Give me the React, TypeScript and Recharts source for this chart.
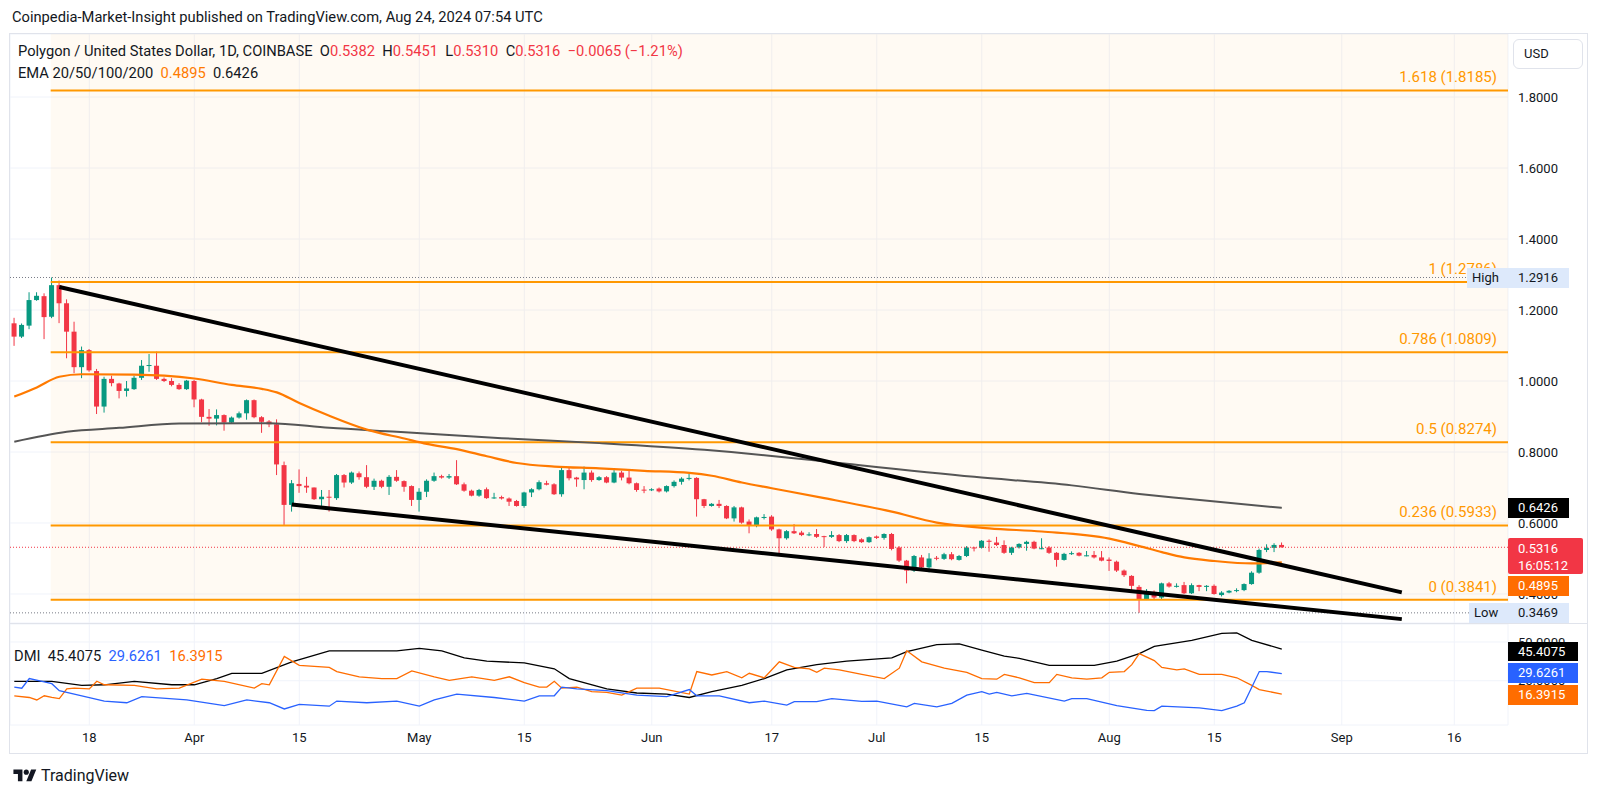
import React from 'react';
import {
  ComposedChart,
  Bar,
  Line,
  XAxis,
  YAxis,
  CartesianGrid,
  ReferenceLine,
  ReferenceArea,
} from 'recharts';

// ---------- DATA ----------
// Daily candles [open, high, low, close], first day = 8 Mar 2024 (index 0)
const candles: [number, number, number, number][] = [
  [1.1625, 1.178, 1.099, 1.125], [1.125, 1.162, 1.121, 1.158], [1.156, 1.25, 1.146, 1.228], [1.228, 1.25, 1.226, 1.24],
  [1.239, 1.247, 1.118, 1.18], [1.181, 1.2916, 1.177, 1.27], [1.27, 1.283, 1.163, 1.219], [1.219, 1.23, 1.064, 1.139],
  [1.139, 1.167, 1.022, 1.039], [1.039, 1.097, 1.008, 1.087], [1.087, 1.09, 1.026, 1.03], [1.028, 1.034, 0.907, 0.928],
  [0.928, 1.012, 0.911, 1.006], [1.006, 1.015, 0.985, 0.994], [0.993, 0.995, 0.951, 0.972], [0.972, 1.0, 0.956, 0.979],
  [0.977, 1.015, 0.975, 1.009], [1.009, 1.059, 1.003, 1.043], [1.043, 1.076, 1.026, 1.045], [1.043, 1.083, 1.003, 1.006],
  [1.006, 1.01, 0.997, 1.0], [1.0, 1.008, 0.985, 0.989], [0.989, 0.994, 0.975, 0.977], [0.977, 1.003, 0.975, 1.001],
  [1.0, 1.003, 0.926, 0.948], [0.948, 0.95, 0.884, 0.899], [0.899, 0.921, 0.874, 0.894], [0.894, 0.92, 0.875, 0.904],
  [0.904, 0.906, 0.86, 0.883], [0.883, 0.9, 0.88, 0.897], [0.897, 0.914, 0.894, 0.909], [0.909, 0.948, 0.891, 0.946],
  [0.946, 0.948, 0.895, 0.898], [0.898, 0.901, 0.854, 0.885], [0.886, 0.89, 0.87, 0.878], [0.878, 0.892, 0.735, 0.765],
  [0.763, 0.773, 0.593, 0.651], [0.651, 0.721, 0.632, 0.712], [0.71, 0.751, 0.685, 0.704], [0.705, 0.73, 0.685, 0.7],
  [0.7, 0.7, 0.665, 0.667], [0.667, 0.693, 0.648, 0.674], [0.674, 0.693, 0.632, 0.672], [0.67, 0.738, 0.665, 0.735],
  [0.735, 0.738, 0.7, 0.714], [0.714, 0.745, 0.71, 0.742], [0.74, 0.745, 0.722, 0.729], [0.729, 0.763, 0.698, 0.702],
  [0.702, 0.725, 0.693, 0.719], [0.719, 0.722, 0.698, 0.702], [0.702, 0.735, 0.679, 0.73], [0.73, 0.749, 0.716, 0.719],
  [0.718, 0.72, 0.688, 0.702], [0.704, 0.706, 0.648, 0.665], [0.665, 0.698, 0.632, 0.688], [0.688, 0.723, 0.673, 0.719],
  [0.719, 0.742, 0.716, 0.732], [0.732, 0.736, 0.725, 0.728], [0.728, 0.738, 0.724, 0.732], [0.732, 0.777, 0.707, 0.709],
  [0.709, 0.714, 0.688, 0.691], [0.691, 0.694, 0.675, 0.677], [0.677, 0.696, 0.674, 0.693], [0.695, 0.7, 0.668, 0.67],
  [0.67, 0.685, 0.668, 0.672], [0.673, 0.677, 0.666, 0.669], [0.669, 0.672, 0.648, 0.66], [0.662, 0.665, 0.646, 0.648],
  [0.648, 0.688, 0.643, 0.686], [0.686, 0.698, 0.673, 0.695], [0.695, 0.72, 0.692, 0.715], [0.712, 0.719, 0.706, 0.708],
  [0.709, 0.712, 0.679, 0.681], [0.681, 0.756, 0.674, 0.749], [0.749, 0.756, 0.72, 0.726], [0.728, 0.73, 0.702, 0.723],
  [0.721, 0.759, 0.695, 0.742], [0.742, 0.748, 0.716, 0.721], [0.721, 0.732, 0.719, 0.729], [0.729, 0.732, 0.712, 0.714],
  [0.714, 0.749, 0.712, 0.742], [0.742, 0.747, 0.72, 0.728], [0.728, 0.747, 0.709, 0.712], [0.712, 0.714, 0.688, 0.693],
  [0.694, 0.704, 0.684, 0.692], [0.692, 0.698, 0.69, 0.695], [0.697, 0.7, 0.686, 0.689], [0.689, 0.706, 0.686, 0.704],
  [0.704, 0.72, 0.7, 0.716], [0.716, 0.729, 0.708, 0.725], [0.725, 0.738, 0.72, 0.727], [0.727, 0.729, 0.618, 0.667],
  [0.667, 0.668, 0.642, 0.648], [0.648, 0.656, 0.646, 0.654], [0.654, 0.665, 0.642, 0.648], [0.648, 0.65, 0.611, 0.613],
  [0.613, 0.648, 0.604, 0.644], [0.644, 0.646, 0.598, 0.601], [0.604, 0.61, 0.571, 0.592], [0.592, 0.618, 0.588, 0.616],
  [0.616, 0.625, 0.61, 0.617], [0.618, 0.622, 0.578, 0.582], [0.582, 0.584, 0.515, 0.557], [0.557, 0.58, 0.553, 0.577],
  [0.577, 0.597, 0.569, 0.571], [0.573, 0.578, 0.563, 0.566], [0.566, 0.574, 0.563, 0.568], [0.569, 0.583, 0.558, 0.561],
  [0.563, 0.564, 0.532, 0.562], [0.561, 0.577, 0.558, 0.566], [0.566, 0.569, 0.546, 0.549], [0.549, 0.569, 0.544, 0.566],
  [0.566, 0.568, 0.546, 0.549], [0.554, 0.557, 0.544, 0.546], [0.546, 0.562, 0.544, 0.56], [0.562, 0.565, 0.555, 0.558],
  [0.558, 0.571, 0.553, 0.569], [0.569, 0.572, 0.523, 0.527], [0.531, 0.535, 0.49, 0.494], [0.494, 0.496, 0.43, 0.466],
  [0.466, 0.51, 0.462, 0.507], [0.503, 0.51, 0.472, 0.475], [0.475, 0.515, 0.461, 0.5], [0.502, 0.507, 0.495, 0.5],
  [0.499, 0.516, 0.496, 0.512], [0.512, 0.518, 0.495, 0.498], [0.496, 0.51, 0.494, 0.507], [0.507, 0.535, 0.504, 0.531],
  [0.531, 0.533, 0.52, 0.53], [0.53, 0.552, 0.528, 0.55], [0.55, 0.554, 0.519, 0.547], [0.545, 0.561, 0.535, 0.538],
  [0.538, 0.551, 0.513, 0.516], [0.516, 0.533, 0.51, 0.531], [0.531, 0.543, 0.528, 0.541], [0.541, 0.55, 0.522, 0.547],
  [0.547, 0.55, 0.526, 0.528], [0.528, 0.557, 0.526, 0.529], [0.531, 0.535, 0.513, 0.516], [0.516, 0.518, 0.477, 0.496],
  [0.496, 0.516, 0.494, 0.513], [0.513, 0.52, 0.51, 0.515], [0.516, 0.518, 0.506, 0.508], [0.508, 0.521, 0.506, 0.509],
  [0.51, 0.521, 0.5, 0.503], [0.503, 0.521, 0.492, 0.494], [0.497, 0.503, 0.465, 0.493], [0.491, 0.494, 0.462, 0.466],
  [0.466, 0.469, 0.448, 0.453], [0.451, 0.453, 0.411, 0.423], [0.42, 0.425, 0.3469, 0.385], [0.385, 0.414, 0.383, 0.406],
  [0.406, 0.41, 0.383, 0.39], [0.39, 0.432, 0.385, 0.43], [0.43, 0.434, 0.418, 0.421], [0.422, 0.43, 0.418, 0.423],
  [0.425, 0.434, 0.4, 0.402], [0.402, 0.43, 0.4, 0.425], [0.425, 0.426, 0.408, 0.42], [0.42, 0.425, 0.408, 0.423],
  [0.423, 0.427, 0.398, 0.4], [0.397, 0.408, 0.393, 0.404], [0.404, 0.411, 0.402, 0.409], [0.409, 0.416, 0.405, 0.411],
  [0.411, 0.43, 0.408, 0.428], [0.428, 0.464, 0.426, 0.46], [0.46, 0.528, 0.457, 0.524], [0.524, 0.54, 0.518, 0.53],
  [0.53, 0.543, 0.518, 0.5382], [0.5382, 0.5451, 0.531, 0.5316],
];

// EMA values read at day indices [day, value]
const emaOrange: [number, number][] = [
  [0, 0.956], [3, 0.982], [6, 1.012], [9, 1.019], [16, 1.018], [20, 1.015], [24, 1.007], [29, 0.989],
  [33, 0.978], [35, 0.968], [38, 0.938], [42, 0.902], [47, 0.863], [52, 0.838], [55, 0.823], [59, 0.808],
  [63, 0.788], [67, 0.769], [72, 0.759], [78, 0.754], [84, 0.747], [90, 0.741], [93, 0.733], [97, 0.714],
  [101, 0.698], [108, 0.67], [117, 0.632], [123, 0.601], [130, 0.585], [137, 0.576], [146, 0.556], [150, 0.535],
  [153, 0.518], [156, 0.503], [160, 0.493], [165, 0.486], [169, 0.4895],
];
const emaGray: [number, number][] = [
  [0, 0.829], [7, 0.857], [14, 0.868], [22, 0.88], [34, 0.881], [42, 0.868], [51, 0.857], [65, 0.839],
  [78, 0.825], [92, 0.806], [101, 0.789], [106, 0.778], [128, 0.73], [141, 0.706], [150, 0.682], [156, 0.669],
  [169, 0.6426],
];

// Trendlines [day, price]
const upperTrend: [number, number][] = [[6, 1.265], [185, 0.4045]];
const lowerTrend: [number, number][] = [[37, 0.6521], [185, 0.3292]];

// Fibonacci levels [ratio label, price]
const fibLevels: [string, number][] = [
  ['1.618', 1.8185], ['1', 1.2786], ['0.786', 1.0809], ['0.5', 0.8274], ['0.236', 0.5933], ['0', 0.3841],
];
const FIB_START = 4.85;
const HIGH = 1.2916;
const LOW = 0.3469;
const LAST = 0.5316;

const priceTicks = [0.4, 0.6, 0.8, 1.0, 1.2, 1.4, 1.6, 1.8];
const dateTicks: [number, string][] = [
  [10, '18'], [24, 'Apr'], [38, '15'], [54, 'May'], [68, '15'], [85, 'Jun'], [101, '17'],
  [115, 'Jul'], [129, '15'], [146, 'Aug'], [160, '15'], [177, 'Sep'], [192, '16'],
];

// DMI [day, value]
const adx: [number, number][] = [
  [0, 24.6], [5, 24.6], [9, 22.0], [12, 22.4], [16, 24.6], [21, 22.4], [24, 22.4], [27, 26.4], [29, 29.8],
  [33, 29.8], [37, 37.2], [42, 44.3], [51, 44.3], [54, 45.9], [57, 44.3], [60, 39.8], [63, 37.6], [68, 36.5],
  [72, 32.7], [74, 26.4], [79, 19.7], [83, 17.1], [87, 16.4], [90, 14.2], [93, 18.0], [97, 22.0], [100, 26.4],
  [103, 32.0], [107, 35.4], [111, 37.6], [117, 39.8], [119, 43.8], [123, 48.3], [126, 48.8], [129, 44.7],
  [132, 40.9], [134, 39.4], [138, 34.9], [144, 34.9], [147, 37.6], [150, 42.5], [152, 47.2], [157, 51.0],
  [161, 55.5], [163, 55.9], [165, 51.0], [169, 45.4075],
];
const plusDI: [number, number][] = [
  [0, 20.9], [1, 20.2], [2, 26.4], [4, 24.2], [5, 23.1], [6, 18.6], [9, 15.3], [12, 11.9], [15, 10.8],
  [17, 14.8], [23, 12.6], [28, 9.0], [31, 12.6], [34, 10.8], [36, 6.8], [38, 9.7], [42, 8.6], [43, 11.9],
  [47, 10.8], [51, 11.9], [54, 8.6], [56, 12.6], [59, 16.4], [64, 14.2], [68, 11.9], [70, 15.3], [72, 15.3],
  [73, 20.9], [75, 19.7], [79, 18.6], [83, 15.7], [87, 14.8], [90, 19.3], [91, 15.3], [94, 15.3], [98, 10.8],
  [100, 11.9], [103, 9.25], [104, 11.5], [107, 11.5], [109, 13.5], [113, 11.7], [115, 11.9], [119, 8.1],
  [120, 10.4], [123, 8.1], [125, 10.4], [127, 15.7], [129, 18.0], [130, 16.4], [131, 17.5], [133, 15.3],
  [135, 16.8], [140, 11.9], [141, 13.5], [143, 13.5], [147, 9.0], [151, 5.9], [152, 5.7], [153, 8.6],
  [158, 7.5], [161, 5.7], [163, 8.6], [164, 10.8], [166, 30.9], [167, 30.9], [169, 29.6261],
];
const minusDI: [number, number][] = [
  [0, 15.3], [2, 14.2], [3, 12.6], [4, 15.3], [5, 14.2], [6, 13.5], [7, 19.7], [8, 20.2], [10, 19.7],
  [11, 24.65], [12, 22.4], [16, 22.0], [19, 19.7], [22, 20.2], [25, 26.0], [28, 24.65], [32, 20.2], [33, 23.1],
  [34, 22.4], [36, 40.7], [38, 34.9], [42, 33.6], [43, 30.9], [46, 27.55], [49, 26.4], [51, 26.4], [53, 31.3],
  [56, 27.55], [58, 25.3], [61, 27.55], [64, 25.3], [66, 27.55], [68, 23.8], [70, 20.9], [71, 20.9], [72, 24.65],
  [73, 20.2], [75, 20.9], [77, 18.0], [79, 17.5], [81, 15.7], [83, 20.2], [86, 20.2], [90, 16.4], [91, 30.9],
  [93, 28.7], [95, 30.9], [97, 26.9], [98, 29.8], [100, 26.9], [102, 37.2], [104, 33.6], [106, 32.7],
  [107, 30.45], [108, 33.1], [110, 32.0], [113, 29.1], [116, 26.4], [118, 33.1], [119, 44.3], [121, 37.2],
  [124, 33.1], [127, 30.45], [129, 26.4], [131, 26.0], [132, 29.1], [134, 26.9], [136, 23.8], [138, 23.8],
  [139, 29.1], [141, 26.9], [143, 26.0], [145, 26.9], [146, 30.45], [148, 30.9], [149, 35.4], [150, 42.5],
  [152, 38.0], [153, 33.6], [155, 32.0], [156, 32.7], [158, 29.1], [161, 29.1], [163, 26.9], [165, 22.0],
  [166, 19.3], [169, 16.3915],
];
const dmiTicks = [25, 50];

// ---------- LAYOUT / STYLE ----------
const GREEN = '#089981';
const RED = '#f23645';
const FIB = '#ff9800';
const EMA_ORANGE = '#ff7a00';
const EMA_GRAY = '#555555';
const GRID = '#f0f3fa';
const TXT = '#131722';
const XMIN = -0.573;
const XMAX = 199.16;
const PMIN = 0.3183;
const PMAX = 1.9775;
const DMIN = -3.55;
const DMAX = 61.6;
const FONT = "Roboto, 'Noto Sans', sans-serif";
const LEGEND_FS = 14.7;

const tickIdx = dateTicks.map((d) => d[0]);
const fmtDate = (v: number) => {
  const f = dateTicks.find((d) => d[0] === v);
  return f ? f[1] : '';
};

const mainRows = (() => {
  const rows: any[] = [];
  for (let i = 0; i < 200; i++) rows.push({ x: i });
  candles.forEach(([o, h, l, c], i) => Object.assign(rows[i], { o, h, l, c, range: [l, h] }));
  emaOrange.forEach(([i, v]) => (rows[i].emaO = v));
  emaGray.forEach(([i, v]) => (rows[i].emaG = v));
  upperTrend.forEach(([i, v]) => (rows[i].upper = v));
  lowerTrend.forEach(([i, v]) => (rows[i].lower = v));
  return rows;
})();

const dmiRows = (() => {
  const rows: any[] = [];
  for (let i = 0; i < 200; i++) rows.push({ x: i });
  adx.forEach(([i, v]) => (rows[i].adx = v));
  plusDI.forEach(([i, v]) => (rows[i].pdi = v));
  minusDI.forEach(([i, v]) => (rows[i].mdi = v));
  return rows;
})();

const Candle = (props: any) => {
  const { x, y, width, height, payload } = props;
  if (!payload || payload.o == null || !isFinite(y) || !isFinite(height)) return null;
  const { o, h, l, c } = payload;
  const color = c >= o ? GREEN : RED;
  const span = h - l;
  const ppu = span > 0 ? height / span : 0;
  const top = y + (h - Math.max(o, c)) * ppu;
  const bot = y + (h - Math.min(o, c)) * ppu;
  const cx = x + width / 2;
  return (
    <g>
      <line x1={cx} x2={cx} y1={y} y2={y + height} stroke={color} strokeWidth={1} />
      <rect x={x} y={top} width={width} height={Math.max(1, bot - top)} fill={color} />
    </g>
  );
};

const fibLabel = (text: string) => (p: any) => {
  const vb = p.viewBox || {};
  return (
    <text x={vb.x + vb.width - 11} y={vb.y - 8} textAnchor="end" fill={FIB} fontSize={15}>
      {text}
    </text>
  );
};

const Badge = ({ left, top, width, height, bg, color, children, style }: any) => (
  <div
    style={{
      position: 'absolute', left, top, width, height, background: bg, color,
      fontSize: 13, display: 'flex', alignItems: 'center', paddingLeft: 10, boxSizing: 'border-box',
      lineHeight: '14px', ...style,
    }}
  >
    {children}
  </div>
);

export default function App() {
  return (
    <div style={{ position: 'absolute', left: 0, top: 0, width: 1600, height: 796, background: '#fff', fontFamily: FONT, color: TXT, overflow: 'hidden' }}>
      <div style={{ position: 'absolute', left: 12, top: 8, fontSize: LEGEND_FS, lineHeight: '18px' }}>
        Coinpedia-Market-Insight published on TradingView.com, Aug 24, 2024 07:54 UTC
      </div>

      {/* frame */}
      <div style={{ position: 'absolute', left: 9, top: 33, width: 1579, height: 721, border: '1px solid #e0e3eb', boxSizing: 'border-box' }} />

      {/* main price pane */}
      <div style={{ position: 'absolute', left: 10, top: 34 }}>
        <ComposedChart width={1578} height={589} data={mainRows} margin={{ top: 0, right: 0, bottom: 0, left: 0 }}>
          <CartesianGrid stroke={GRID} />
          <XAxis type="number" dataKey="x" domain={[XMIN, XMAX]} ticks={tickIdx} allowDataOverflow hide />
          <YAxis
            orientation="right" width={80} type="number" domain={[PMIN, PMAX]} ticks={priceTicks} allowDataOverflow
            axisLine={false} tickLine={false} tickSize={0} tickMargin={10} interval={0}
            tickFormatter={(v: number) => v.toFixed(4)} tick={{ fill: TXT, fontSize: 13 }}
          />
          <ReferenceArea x1={FIB_START} x2={XMAX} y1={0.3841} y2={PMAX} fill={FIB} fillOpacity={0.048} stroke="none" ifOverflow="visible" />
          {fibLevels.map(([r, v]) => (
            <ReferenceLine
              key={r}
              segment={[{ x: FIB_START, y: v }, { x: XMAX, y: v }]}
              stroke={FIB} strokeWidth={2} ifOverflow="visible"
              label={fibLabel(`${r} (${v.toFixed(4)})`)}
            />
          ))}
          <ReferenceLine y={HIGH} stroke="#787b86" strokeDasharray="1 2" />
          <ReferenceLine y={LOW} stroke="#787b86" strokeDasharray="1 2" />
          <ReferenceLine y={LAST} stroke={RED} strokeDasharray="1 2" />
          <Bar dataKey="range" barSize={5} shape={Candle} isAnimationActive={false} />
          <Line type="monotone" dataKey="emaG" stroke={EMA_GRAY} strokeWidth={2} dot={false} connectNulls isAnimationActive={false} />
          <Line type="monotone" dataKey="emaO" stroke={EMA_ORANGE} strokeWidth={2.2} dot={false} connectNulls isAnimationActive={false} />
          <Line type="linear" dataKey="upper" stroke="#000" strokeWidth={4} dot={false} connectNulls isAnimationActive={false} />
          <Line type="linear" dataKey="lower" stroke="#000" strokeWidth={4} dot={false} connectNulls isAnimationActive={false} />
        </ComposedChart>
      </div>

      {/* separator */}
      <div style={{ position: 'absolute', left: 9, top: 623, width: 1579, height: 1, background: '#e0e3eb' }} />

      {/* DMI pane */}
      <div style={{ position: 'absolute', left: 10, top: 624 }}>
        <ComposedChart width={1578} height={129} data={dmiRows} margin={{ top: 0, right: 0, bottom: 0, left: 0 }}>
          <CartesianGrid stroke={GRID} />
          <XAxis
            type="number" dataKey="x" domain={[XMIN, XMAX]} ticks={tickIdx} allowDataOverflow interval={0}
            height={28} axisLine={false} tickLine={false} tickSize={0} tickMargin={8}
            tickFormatter={fmtDate} tick={{ fill: TXT, fontSize: 13 }}
          />
          <YAxis
            orientation="right" width={80} type="number" domain={[DMIN, DMAX]} ticks={dmiTicks} allowDataOverflow
            axisLine={false} tickLine={false} tickSize={0} tickMargin={10} interval={0}
            tickFormatter={(v: number) => v.toFixed(4)} tick={{ fill: TXT, fontSize: 13 }}
          />
          <Line type="linear" dataKey="adx" stroke="#000" strokeWidth={1.3} dot={false} connectNulls isAnimationActive={false} />
          <Line type="linear" dataKey="mdi" stroke="#ff6d00" strokeWidth={1.3} dot={false} connectNulls isAnimationActive={false} />
          <Line type="linear" dataKey="pdi" stroke="#2962ff" strokeWidth={1.3} dot={false} connectNulls isAnimationActive={false} />
        </ComposedChart>
      </div>

      {/* legends */}
      <div style={{ position: 'absolute', left: 18, top: 42, fontSize: LEGEND_FS, lineHeight: '18px', whiteSpace: 'pre' }}>
        <span>Polygon / United States Dollar, 1D, COINBASE  </span>
        <span>O</span><span style={{ color: RED }}>0.5382  </span>
        <span>H</span><span style={{ color: RED }}>0.5451  </span>
        <span>L</span><span style={{ color: RED }}>0.5310  </span>
        <span>C</span><span style={{ color: RED }}>0.5316  −0.0065 (−1.21%)</span>
      </div>
      <div style={{ position: 'absolute', left: 18, top: 64, fontSize: LEGEND_FS, lineHeight: '18px', whiteSpace: 'pre' }}>
        <span>EMA 20/50/100/200  </span>
        <span style={{ color: EMA_ORANGE }}>0.4895  </span>
        <span>0.6426</span>
      </div>
      <div style={{ position: 'absolute', left: 14, top: 647, fontSize: LEGEND_FS, lineHeight: '18px', whiteSpace: 'pre' }}>
        <span>DMI  45.4075  </span>
        <span style={{ color: '#2962ff' }}>29.6261  </span>
        <span style={{ color: '#ff6d00' }}>16.3915</span>
      </div>

      {/* price scale badges */}
      <div style={{ position: 'absolute', left: 1513, top: 39, width: 70, height: 30, border: '1px solid #e0e3eb', borderRadius: 6, boxSizing: 'border-box', fontSize: 13, paddingLeft: 10, lineHeight: '28px', background: '#fff' }}>USD</div>
      <Badge left={1467} top={268} width={41} height={20} bg="#dde9fb" color={TXT} style={{ paddingLeft: 5 }}>High</Badge>
      <Badge left={1508} top={268} width={61} height={20} bg="#dde9fb" color={TXT}>1.2916</Badge>
      <Badge left={1508} top={498} width={61} height={20} bg="#000" color="#fff">0.6426</Badge>
      <div style={{ position: 'absolute', left: 1508, top: 538, width: 75, height: 36, background: RED, color: '#fff', fontSize: 13, lineHeight: '17px', paddingLeft: 10, paddingTop: 2, boxSizing: 'border-box', borderRadius: 2 }}>
        <div>0.5316</div>
        <div>16:05:12</div>
      </div>
      <Badge left={1508} top={576} width={61} height={20} bg="#ff6d00" color="#fff">0.4895</Badge>
      <Badge left={1469} top={603} width={39} height={20} bg="#dde9fb" color={TXT} style={{ paddingLeft: 5 }}>Low</Badge>
      <Badge left={1508} top={603} width={61} height={20} bg="#dde9fb" color={TXT}>0.3469</Badge>
      <Badge left={1508} top={642} width={70} height={19} bg="#000" color="#fff">45.4075</Badge>
      <Badge left={1508} top={663} width={70} height={20} bg="#2962ff" color="#fff">29.6261</Badge>
      <Badge left={1508} top={685} width={70} height={20} bg="#ff6d00" color="#fff">16.3915</Badge>

      {/* TradingView logo */}
      <div style={{ position: 'absolute', left: 12, top: 766, display: 'flex', alignItems: 'center' }}>
        <svg width="26" height="18" viewBox="0 0 36 28">
          <path d="M14 22H7V11H0V4h14v18zM28 22h-8l7.5-18h8L28 22z" fill="#131722" />
          <circle cx="20" cy="8" r="4" fill="#131722" />
        </svg>
        <span style={{ fontSize: 16, marginLeft: 3, color: TXT }}>TradingView</span>
      </div>
    </div>
  );
}
